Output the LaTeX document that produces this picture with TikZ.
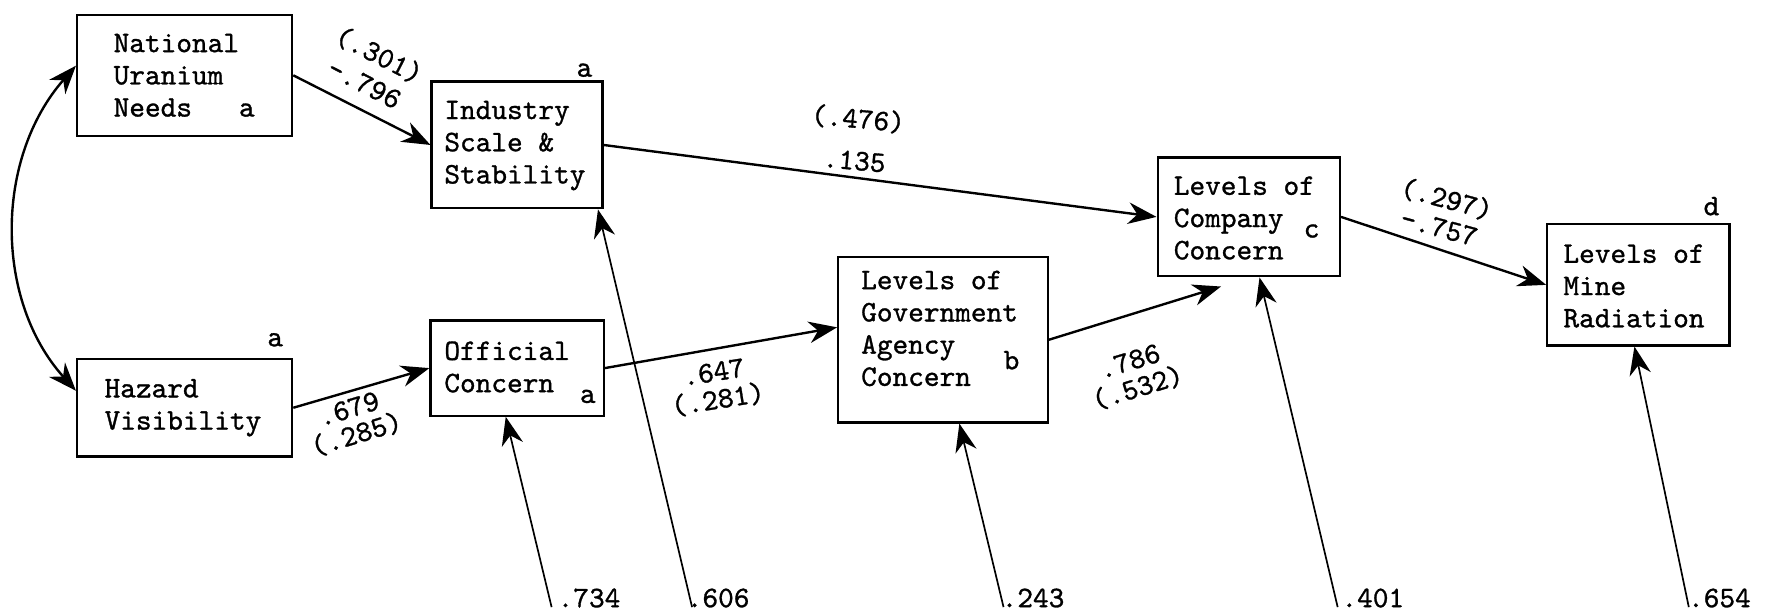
\documentclass[tikz,border=0pt]{standalone}
\usepackage{fontspec}
\usetikzlibrary{arrows.meta,calc}
\newfontfamily\twfont{lmmono10-regular.otf}[FakeBold=1]
\tikzset{
  box/.style={draw, line width=1.1pt, inner sep=0pt},
  txt/.style={font=\fontsize{15}{16.2}\selectfont\twfont, align=left, inner sep=0pt, anchor=west},
  lab/.style={font=\fontsize{15}{16.2}\selectfont\twfont, inner sep=0pt, align=center},
  tip/.style={},
  arr/.style={line width=1.2pt, -{Stealth[length=0.5cm,width=0.38cm,inset=0.16cm]}},
  dblarr/.style={line width=1.2pt, {Stealth[length=0.5cm,width=0.38cm,inset=0.16cm]}-{Stealth[length=0.5cm,width=0.38cm,inset=0.16cm]}},
  res/.style={line width=0.85pt, -{Stealth[length=0.5cm,width=0.38cm,inset=0.16cm]}}
}
\begin{document}
\begin{tikzpicture}[x=0.02cm,y=-0.02cm]
\useasboundingbox[fill=white] (0,0) rectangle (1568,540);
% boxes
\node[box, minimum width=3.8cm, minimum height=2.14cm] (nat) at (163,66.5) {};
\node[box, minimum width=3.8cm, minimum height=1.72cm] (haz) at (163,360) {};
\node[box, minimum width=3.02cm, minimum height=2.24cm] (ind) at (456.5,128) {};
\node[box, minimum width=3.06cm, minimum height=1.68cm] (off) at (456.5,325) {};
\node[box, minimum width=3.7cm, minimum height=2.92cm] (gov) at (832.5,300) {};
\node[box, minimum width=3.22cm, minimum height=2.1cm] (com) at (1102.5,191.5) {};
\node[box, minimum width=3.22cm, minimum height=2.14cm] (mine) at (1446.5,251.5) {};
% texts
\node[txt] (natt) at (100,66.5) {National\\Uranium\\Needs~~~a};
\node[txt] (hazt) at (92,360) {Hazard\\Visibility};
\node[txt] (indt) at (392,128.5) {Industry\\Scale \&\\Stability};
\node[txt] (offt) at (392,324) {Official\\Concern};
\node[txt] (govt) at (760,290) {Levels of\\Government\\Agency\\Concern};
\node[txt] (comt) at (1036,192.5) {Levels of\\Company\\Concern};
\node[txt] (minet) at (1380,252.5) {Levels of\\Mine\\Radiation};
% letters
\node[lab] (la1) at (243,300) {a};
\node[lab] (la2) at (516,62) {a};
\node[lab] (la3) at (519,350) {a};
\node[lab] (lb) at (893,318) {b};
\node[lab] (lc) at (1158,204) {c};
\node[lab] (ld) at (1511,182) {d};
% main paths
\draw[dblarr] ([yshift=0.17cm]nat.west) .. controls (-5,140) and (-5,265) .. ([yshift=0.3cm]haz.west);
\draw[arr] (nat.east) -- (ind.west);
\draw[arr] (haz.east) -- (off.west);
\draw[arr] (ind.east) -- (com.west);
\draw[arr] (off.east) -- ([yshift=0.22cm]gov.west);
\draw[arr] (gov.east) -- ([xshift=-0.49cm,yshift=-0.16cm]com.south);
\draw[arr] (com.east) -- (mine.west);
% path labels
\node[lab, rotate=-27] (l1) at (328.5,60.5) {(.301)\\-.796};
\node[lab, rotate=-5] (l2) at (756,122.5) {(.476)\\[0.17cm].135};
\node[lab, rotate=17] (l3) at (311.5,373) {.679\\[-0.1cm](.285)};
\node[lab, rotate=9] (l4) at (632,341.5) {.647\\[-0.08cm](.281)};
\node[lab, rotate=17] (l5) at (1001,331.5) {.786\\[-0.08cm](.532)};
\node[lab, rotate=-15] (l6) at (1274,187.5) {(.297)\\[-0.05cm]-.757};
% residuals
\coordinate (r1) at (487,536);
\coordinate (r2) at (611,536);
\coordinate (r3) at (886,536);
\coordinate (r4) at (1181,536);
\coordinate (r5) at (1491,536);
\draw[res] (r1) -- ([xshift=-0.2cm]off.south);
\draw[res] (r2) -- ([xshift=-0.1cm]ind.south east);
\draw[res] (r3) -- ([xshift=0.29cm]gov.south);
\draw[res] (r4) -- ([xshift=0.19cm]com.south);
\draw[res] (r5) -- ([xshift=-0.07cm]mine.south);
\node[lab, anchor=west] (e1) at (492,528) {.734};
\node[lab, anchor=west] (e2) at (606,528) {.606};
\node[lab, anchor=west] (e3) at (884,528) {.243};
\node[lab, anchor=west] (e4) at (1184,528) {.401};
\node[lab, anchor=west] (e5) at (1490,528) {.654};
\end{tikzpicture}
\end{document}
